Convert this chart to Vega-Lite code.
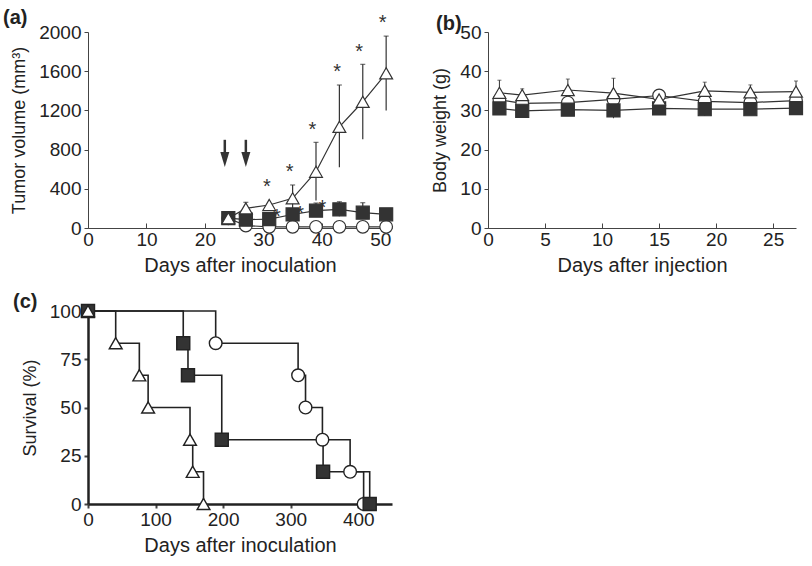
{
  "$schema": "https://vega.github.io/schema/vega-lite/v6.json",
  "background": "white",
  "padding": {"left": 3, "top": 8, "right": 5, "bottom": 5},
  "bounds": "flush",
  "columns": 2,
  "spacing": {"row": 83, "column": 96},
  "config": {
    "font": "Liberation Sans",
    "view": {"stroke": null},
    "axis": {
      "grid": false,
      "domainColor": "#444",
      "tickColor": "#444",
      "labelColor": "#222",
      "titleColor": "#222",
      "labelFont": "Liberation Sans",
      "titleFont": "Liberation Sans",
      "labelFontSize": 19,
      "titleFontSize": 20,
      "titleFontWeight": "normal",
      "tickSize": 4,
      "labelPadding": 3,
      "labelOverlap": false,
      "labelFlush": false,
      "format": "d"
    },
    "axisY": {"titleFontSize": 18},
    "title": {"font": "Liberation Sans", "fontSize": 20, "fontWeight": "bold", "color": "#222"}
  },
  "datasets": {
    "tumor": [
      {"g": "T", "day": 24, "v": 100}, {"g": "T", "day": 27, "v": 200}, {"g": "T", "day": 31, "v": 235}, {"g": "T", "day": 35, "v": 303},
      {"g": "T", "day": 39, "v": 574}, {"g": "T", "day": 43, "v": 1033}, {"g": "T", "day": 47, "v": 1288}, {"g": "T", "day": 51, "v": 1578},
      {"g": "C", "day": 24, "v": 100}, {"g": "C", "day": 27, "v": 25}, {"g": "C", "day": 31, "v": 12}, {"g": "C", "day": 35, "v": 12},
      {"g": "C", "day": 39, "v": 12}, {"g": "C", "day": 43, "v": 12}, {"g": "C", "day": 47, "v": 12}, {"g": "C", "day": 51, "v": 12},
      {"g": "S", "day": 24, "v": 100}, {"g": "S", "day": 27, "v": 85}, {"g": "S", "day": 31, "v": 90}, {"g": "S", "day": 35, "v": 138},
      {"g": "S", "day": 39, "v": 177}, {"g": "S", "day": 43, "v": 190}, {"g": "S", "day": 47, "v": 156}, {"g": "S", "day": 51, "v": 140}
    ],
    "tumorErr": [
      {"g": "T", "day": 27, "lo": 140, "hi": 262}, {"g": "T", "day": 35, "lo": 167, "hi": 439},
      {"g": "T", "day": 39, "lo": 280, "hi": 874}, {"g": "T", "day": 43, "lo": 620, "hi": 1459},
      {"g": "T", "day": 47, "lo": 905, "hi": 1670}, {"g": "T", "day": 51, "lo": 1200, "hi": 1958},
      {"g": "S", "day": 39, "lo": 120, "hi": 255}, {"g": "S", "day": 43, "lo": 120, "hi": 268}, {"g": "S", "day": 47, "lo": 100, "hi": 258}
    ],
    "stars": [
      {"day": 30.6, "v": 470}, {"day": 34.5, "v": 625}, {"day": 38.4, "v": 1050}, {"day": 42.6, "v": 1645},
      {"day": 46.4, "v": 1850}, {"day": 50.4, "v": 2140}, {"day": 32.3, "v": 166}, {"day": 36.3, "v": 194}, {"day": 40.1, "v": 252}
    ],
    "arrows": [
      {"day": 23.4, "top": 900, "head": 700}, {"day": 27, "top": 900, "head": 700}
    ],
    "weight": [
      {"g": "T", "day": 1, "v": 34.5}, {"g": "T", "day": 3, "v": 33.9}, {"g": "T", "day": 7, "v": 35.2}, {"g": "T", "day": 11, "v": 34.4},
      {"g": "T", "day": 15, "v": 32.8}, {"g": "T", "day": 19, "v": 35.0}, {"g": "T", "day": 23, "v": 34.6}, {"g": "T", "day": 27, "v": 34.8},
      {"g": "C", "day": 1, "v": 32.7}, {"g": "C", "day": 3, "v": 31.8}, {"g": "C", "day": 7, "v": 32.0}, {"g": "C", "day": 11, "v": 32.8},
      {"g": "C", "day": 15, "v": 33.8}, {"g": "C", "day": 19, "v": 32.3}, {"g": "C", "day": 23, "v": 32.0}, {"g": "C", "day": 27, "v": 32.5},
      {"g": "S", "day": 1, "v": 30.5}, {"g": "S", "day": 3, "v": 29.9}, {"g": "S", "day": 7, "v": 30.2}, {"g": "S", "day": 11, "v": 30.0},
      {"g": "S", "day": 15, "v": 30.5}, {"g": "S", "day": 19, "v": 30.3}, {"g": "S", "day": 23, "v": 30.3}, {"g": "S", "day": 27, "v": 30.6}
    ],
    "weightErr": [
      {"day": 1, "lo": 34.5, "hi": 37.7}, {"day": 3, "lo": 33.9, "hi": 35.5}, {"day": 7, "lo": 35.2, "hi": 38.0}, {"day": 11, "lo": 34.4, "hi": 38.2},
      {"day": 15, "lo": 32.8, "hi": 35.3}, {"day": 19, "lo": 35.0, "hi": 37.2}, {"day": 23, "lo": 34.6, "hi": 36.5}, {"day": 27, "lo": 34.8, "hi": 37.5},
      {"day": 11, "lo": 28.0, "hi": 30.0}, {"day": 15, "lo": 29.0, "hi": 30.5}, {"day": 19, "lo": 28.6, "hi": 30.3}
    ],
    "survival": [
      {"g": "T", "day": 0, "s": 100}, {"g": "T", "day": 41, "s": 83.3}, {"g": "T", "day": 76, "s": 66.7}, {"g": "T", "day": 89, "s": 50},
      {"g": "T", "day": 151, "s": 33.3}, {"g": "T", "day": 155, "s": 16.7}, {"g": "T", "day": 171, "s": 0},
      {"g": "C", "day": 0, "s": 100}, {"g": "C", "day": 189, "s": 83.3}, {"g": "C", "day": 311, "s": 66.7}, {"g": "C", "day": 322, "s": 50},
      {"g": "C", "day": 347, "s": 33.3}, {"g": "C", "day": 388, "s": 16.7}, {"g": "C", "day": 408, "s": 0},
      {"g": "S", "day": 0, "s": 100}, {"g": "S", "day": 141, "s": 83.3}, {"g": "S", "day": 148, "s": 66.7}, {"g": "S", "day": 198, "s": 33.3},
      {"g": "S", "day": 348, "s": 16.7}, {"g": "S", "day": 417, "s": 0}
    ]
  },
  "concat": [
    {
      "width": 304,
      "height": 196,
      "title": {"text": "(a)", "anchor": "start", "frame": "group", "dx": -85, "dy": 19},
      "layer": [
        {
          "data": {"name": "tumorErr"},
          "mark": {"type": "rule", "color": "#333", "strokeWidth": 1.2},
          "encoding": {
            "x": {"field": "day", "type": "quantitative", "scale": {"domain": [0, 52], "nice": false},
                  "axis": {"values": [0, 10, 20, 30, 40, 50], "tickCount": 20, "title": "Days after inoculation", "tickSize": -5, "labelPadding": 7, "titlePadding": 6, "labelOverlap": false}},
            "y": {"field": "lo", "type": "quantitative", "scale": {"domain": [0, 2000], "nice": false},
                  "axis": {"values": [0, 400, 800, 1200, 1600, 2000], "tickCount": 20, "title": "Tumor volume (mm³)", "titlePadding": 10, "labelOverlap": false}},
            "y2": {"field": "hi"}
          }
        },
        {
          "data": {"name": "tumorErr"},
          "mark": {"type": "tick", "orient": "horizontal", "color": "#333", "size": 5, "thickness": 1.2},
          "encoding": {
            "x": {"field": "day", "type": "quantitative"},
            "y": {"field": "hi", "type": "quantitative"}
          }
        },
        {
          "data": {"name": "tumor"},
          "mark": {"type": "line", "color": "#333", "strokeWidth": 1.2},
          "encoding": {
            "x": {"field": "day", "type": "quantitative"},
            "y": {"field": "v", "type": "quantitative"},
            "detail": {"field": "g"}
          }
        },
        {
          "data": {"name": "tumor"},
          "mark": {"type": "point", "filled": true, "stroke": "#333", "strokeWidth": 1.2, "opacity": 1},
          "encoding": {
            "x": {"field": "day", "type": "quantitative"},
            "y": {"field": "v", "type": "quantitative"},
            "shape": {"field": "g", "scale": {"domain": ["C", "T", "S"], "range": ["circle", "triangle-up", "square"]}, "legend": null},
            "fill": {"field": "g", "scale": {"domain": ["C", "T", "S"], "range": ["white", "white", "#333"]}, "legend": null},
            "size": {"field": "g", "scale": {"domain": ["C", "T", "S"], "range": [160, 170, 110]}, "legend": null},
            "order": {"field": "g"}
          }
        },
        {
          "data": {"name": "stars"},
          "mark": {"type": "text", "text": "*", "fontSize": 20, "color": "#333", "baseline": "middle", "dy": 5},
          "encoding": {
            "x": {"field": "day", "type": "quantitative"},
            "y": {"field": "v", "type": "quantitative"}
          }
        },
        {
          "data": {"name": "arrows"},
          "mark": {"type": "rule", "color": "#333", "strokeWidth": 2.5},
          "encoding": {
            "x": {"field": "day", "type": "quantitative"},
            "y": {"field": "top", "type": "quantitative"},
            "y2": {"field": "head"}
          }
        },
        {
          "data": {"name": "arrows"},
          "mark": {"type": "point", "shape": "M-0.6,-1L0.6,-1L0,1Z", "filled": true, "color": "#333", "size": 225, "opacity": 1},
          "encoding": {
            "x": {"field": "day", "type": "quantitative"},
            "y": {"field": "head", "type": "quantitative"}
          }
        }
      ]
    },
    {
      "width": 308,
      "height": 196,
      "title": {"text": "(b)", "anchor": "start", "frame": "group", "dx": -52, "dy": 15},
      "layer": [
        {
          "data": {"name": "weightErr"},
          "mark": {"type": "rule", "color": "#333", "strokeWidth": 1},
          "encoding": {
            "x": {"field": "day", "type": "quantitative", "scale": {"domain": [0, 27], "nice": false},
                  "axis": {"values": [0, 5, 10, 15, 20, 25], "tickCount": 20, "title": "Days after injection", "tickSize": -5, "labelPadding": 7, "titlePadding": 6, "labelOverlap": false}},
            "y": {"field": "lo", "type": "quantitative", "scale": {"domain": [0, 50], "nice": false},
                  "axis": {"values": [0, 10, 20, 30, 40, 50], "tickCount": 20, "title": "Body weight (g)", "titlePadding": 10, "labelOverlap": false}},
            "y2": {"field": "hi"}
          }
        },
        {
          "data": {"name": "weightErr"},
          "mark": {"type": "tick", "orient": "horizontal", "color": "#333", "size": 4, "thickness": 1},
          "encoding": {
            "x": {"field": "day", "type": "quantitative"},
            "y": {"field": "hi", "type": "quantitative"}
          }
        },
        {
          "data": {"name": "weight"},
          "mark": {"type": "line", "color": "#333", "strokeWidth": 1.2},
          "encoding": {
            "x": {"field": "day", "type": "quantitative"},
            "y": {"field": "v", "type": "quantitative"},
            "detail": {"field": "g"}
          }
        },
        {
          "data": {"name": "weight"},
          "mark": {"type": "point", "filled": true, "stroke": "#333", "strokeWidth": 1.2, "opacity": 1},
          "encoding": {
            "x": {"field": "day", "type": "quantitative"},
            "y": {"field": "v", "type": "quantitative"},
            "shape": {"field": "g", "scale": {"domain": ["C", "T", "S"], "range": ["circle", "triangle-up", "square"]}, "legend": null},
            "fill": {"field": "g", "scale": {"domain": ["C", "T", "S"], "range": ["white", "white", "#333"]}, "legend": null},
            "size": {"field": "g", "scale": {"domain": ["C", "T", "S"], "range": [130, 150, 110]}, "legend": null},
            "order": {"field": "g"}
          }
        }
      ]
    },
    {
      "width": 304,
      "height": 193,
      "title": {"text": "(c)", "anchor": "start", "frame": "group", "dx": -75, "dy": 14},
      "layer": [
        {
          "data": {"name": "survival"},
          "mark": {"type": "line", "interpolate": "step-after", "color": "#222", "strokeWidth": 1.6},
          "encoding": {
            "x": {"field": "day", "type": "quantitative", "scale": {"domain": [0, 450], "nice": false},
                  "axis": {"values": [0, 100, 200, 300, 400], "tickCount": 20, "title": "Days after inoculation", "domainWidth": 2.5, "domainColor": "#222", "tickWidth": 2, "labelPadding": 2, "titlePadding": 6, "labelOverlap": false}},
            "y": {"field": "s", "type": "quantitative", "scale": {"domain": [0, 100], "nice": false},
                  "axis": {"values": [0, 25, 50, 75, 100], "tickCount": 20, "title": "Survival (%)", "domainWidth": 2.5, "domainColor": "#222", "tickWidth": 2, "titlePadding": 10, "labelOverlap": false}},
            "detail": {"field": "g"}
          }
        },
        {
          "data": {"name": "survival"},
          "mark": {"type": "point", "filled": true, "stroke": "#222", "strokeWidth": 1.4, "opacity": 1},
          "encoding": {
            "x": {"field": "day", "type": "quantitative"},
            "y": {"field": "s", "type": "quantitative"},
            "shape": {"field": "g", "scale": {"domain": ["C", "T", "S"], "range": ["circle", "triangle-up", "square"]}, "legend": null},
            "fill": {"field": "g", "scale": {"domain": ["C", "T", "S"], "range": ["white", "white", "#333"]}, "legend": null},
            "size": {"field": "g", "scale": {"domain": ["C", "T", "S"], "range": [110, 130, 100]}, "legend": null},
            "order": {"field": "g"}
          }
        }
      ]
    }
  ]
}
